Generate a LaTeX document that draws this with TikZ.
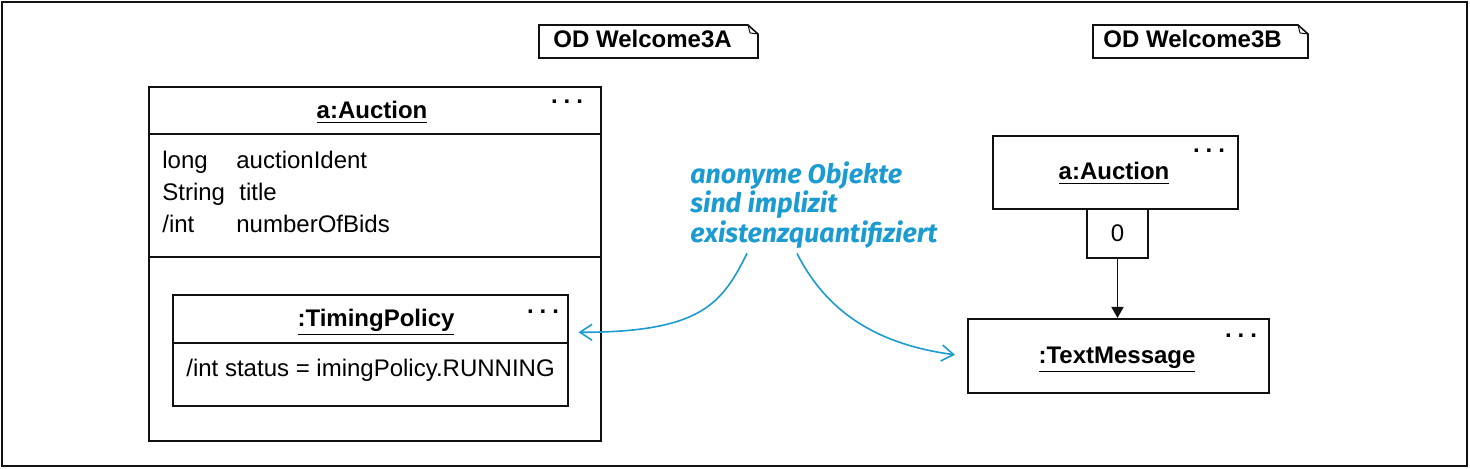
\documentclass[tikz,border=0pt]{standalone}
\usepackage{fontspec}
\setmainfont{Liberation Sans}
\newfontfamily\notefont{Fira Sans}
\usetikzlibrary{arrows.meta,calc,positioning}
\definecolor{ink}{HTML}{111111}
\definecolor{hint}{HTML}{1B9BD1}
\newcommand{\diafont}{\fontsize{12}{14.4}\selectfont}
\newcommand{\moredots}{.\hspace{3pt}.\hspace{3pt}.}
\tikzset{
  objbox/.style={draw=ink,line width=0.8pt,inner sep=0pt,font=\diafont},
  objline/.style={draw=ink,line width=0.8pt},
  objtitle/.style={font=\diafont\bfseries,anchor=base,inner sep=0pt},
  attr/.style={font=\diafont,anchor=base west,inner sep=0pt},
  dotsnode/.style={font=\diafont\bfseries,inner sep=0pt},
  tagtext/.style={font=\diafont\bfseries,anchor=base west,inner sep=0pt},
  tagline/.style={draw=ink,line width=0.8pt,line join=miter},
  link/.style={-{Triangle[length=5.5pt,width=6pt]},line width=0.8pt,draw=ink},
  callout/.style={-{Straight Barb[length=6pt,width=8pt]},line width=0.8pt,draw=hint}
}

\begin{document}
\begin{tikzpicture}[x=0.5pt,y=-0.5pt]
  \useasboundingbox (0,0) rectangle (1470,469);
  \draw[line width=1pt,draw=ink] (2,2) rectangle (1467,466);

  % diagram tags
  \node[tagtext] (tagA) at (553,48) {OD Welcome3A};
  \draw[tagline] (539,25) -- (748,25) -- (758,34) -- (758,58) -- (539,58) -- cycle;
  \draw[tagline,line width=0.5pt] (748,25) -- (750,33) -- (758,34);
  \node[tagtext] (tagB) at (1103,48) {OD Welcome3B};
  \draw[tagline] (1093,25) -- (1298,25) -- (1308,34) -- (1308,58) -- (1093,58) -- cycle;
  \draw[tagline,line width=0.5pt] (1298,25) -- (1300,33) -- (1308,34);

  % left object a:Auction
  \node[objbox,anchor=north west,minimum width=226pt,minimum height=177pt] (auc) at (148,86) {};
  \node[objtitle] (aucName) at (372,119) {\underline{a:Auction}};
  \node[dotsnode] (aucDots) at (567,102) {\moredots};
  \draw[objline] ($(auc.north west)+(0,48)$) -- ($(auc.north east)+(0,48)$);
  \draw[objline] ($(auc.north west)+(0,171)$) -- ($(auc.north east)+(0,171)$);
  \node[attr] (aType1) at (162,169) {long};
  \node[attr] (aName1) at (236,169) {auctionIdent};
  \node[attr] (aType2) at (162,201) {String};
  \node[attr] (aName2) at (239,201) {title};
  \node[attr] (aType3) at (162,233) {/int};
  \node[attr] (aName3) at (236,233) {numberOfBids};

  % nested :TimingPolicy
  \node[objbox,anchor=north west,minimum width=197.5pt,minimum height=55.5pt] (tp) at (172,294) {};
  \node[objtitle] (tpName) at (376,327) {\underline{:TimingPolicy}};
  \node[dotsnode] (tpDots) at (543,312) {\moredots};
  \draw[objline] ($(tp.north west)+(0,49)$) -- ($(tp.north east)+(0,49)$);
  \node[attr] (tpAttr) at (186,377) {/int status = imingPolicy.RUNNING};

  % right side
  \node[objbox,anchor=north west,minimum width=122.5pt,minimum height=36.5pt] (ra) at (992,135) {};
  \node[objtitle] (raName) at (1114,180) {\underline{a:Auction}};
  \node[dotsnode] (raDots) at (1209,151) {\moredots};
  \node[objbox,anchor=north,minimum width=30.5pt,minimum height=24.5pt] (qual) at (1117.5,208) {0};
  \node[objbox,anchor=north west,minimum width=150.5pt,minimum height=37pt] (tm) at (967,318) {};
  \node[objtitle] (tmName) at (1117,364) {\underline{:TextMessage}};
  \node[dotsnode] (tmDots) at (1241,336) {\moredots};
  \draw[link] (qual.south) -- (qual.south |- tm.north);

  % comment
  \node[anchor=north west,inner sep=0pt,align=left,text=hint,
        font=\notefont\bfseries\itshape\fontsize{13.4}{14.75}\selectfont] (note) at (690,161)
    {anonyme Objekte\\sind implizit\\existenzquantifiziert};
  \draw[callout] ($(note.south west)+(57,5)$) .. controls +(-25,50) and +(123,0) .. ($(tp.east)+(10,-18)$);
  \draw[callout] ($(note.south west)+(107,5)$) .. controls +(25,49) and +(-90,-12) .. ($(tm.west)+(-12,-1)$);
\end{tikzpicture}
\end{document}
